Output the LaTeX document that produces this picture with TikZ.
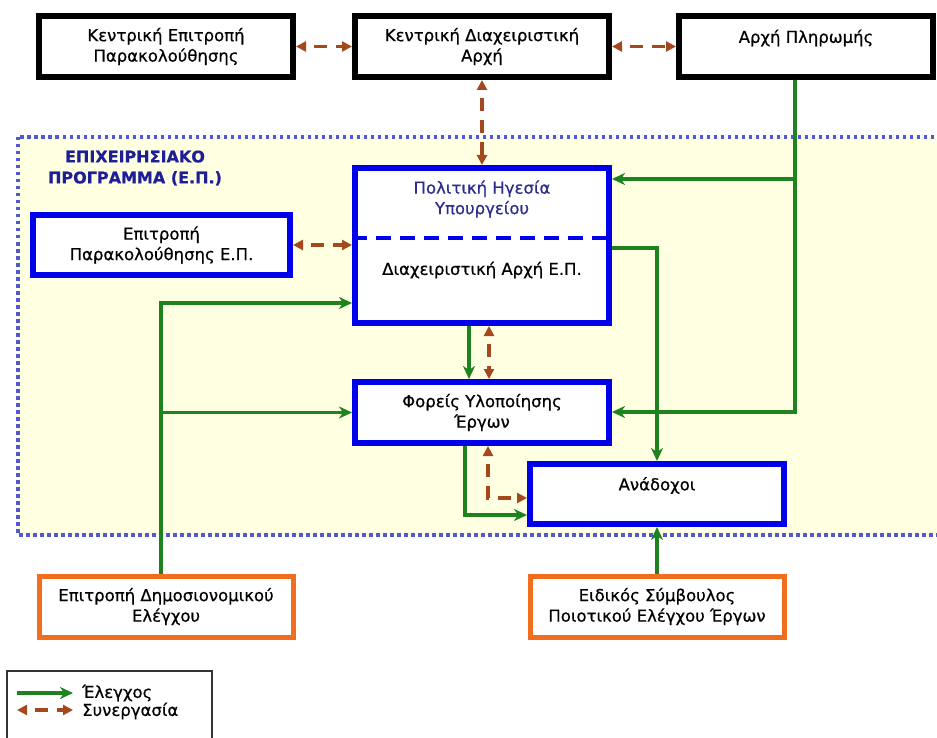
\documentclass[tikz,border=0pt]{standalone}
\usepackage{fontspec}
\setmainfont[FakeBold=0.6]{DejaVu Sans}
\usetikzlibrary{positioning, arrows.meta}
\definecolor{epblue}{RGB}{0,0,235}
\definecolor{extorange}{RGB}{240,110,30}
\definecolor{ctrlgreen}{RGB}{30,130,30}
\definecolor{coopbrown}{RGB}{165,72,30}
\definecolor{progfill}{RGB}{255,255,226}
\definecolor{progdots}{RGB}{80,90,205}
\definecolor{titleblue}{RGB}{30,30,150}
\definecolor{leadblue}{RGB}{45,45,140}
\tikzset {
    x=1pt, y=-1pt,
    every node/.style={font=\fontsize{16.5}{20.5}\selectfont},
    box/.style={draw, line width=6pt, fill=white, align=center,
        minimum width=254pt, minimum height=61pt},
    topbox/.style={box, draw=black},
    epbox/.style={box, draw=epblue},
    extbox/.style={box, draw=extorange, line width=5pt},
    ctrl/.style={draw=ctrlgreen, line width=3.2pt,
        -{Stealth[length=13pt, width=12pt, inset=4pt]}},
    coop/.style={draw=coopbrown, line width=3.2pt,
        dash pattern=on 13pt off 9pt, dash phase=13pt,
        {Triangle[length=10pt, width=10pt]}-{Triangle[length=10pt, width=10pt]}},
    progframe/.style={draw=progdots, fill=progfill, line width=3.2pt,
        dash pattern=on 3.5pt off 3.5pt}
}

\begin{document}
\begin{tikzpicture}
    \useasboundingbox (0,0) rectangle (937,738);
    \clip (0,0) rectangle (937,738);

    % operational programme area
    \draw[progframe] (18,137) rectangle (960,535);
    \node[text=titleblue, align=center, font=\fontsize{16}{21}\selectfont\bfseries]
        (eptitle) at (135,168) {ΕΠΙΧΕΙΡΗΣΙΑΚΟ\\ΠΡΟΓΡΑΜΜΑ (Ε.Π.)};

    % central level
    \node[topbox] (kep) at (166,46.5) {Κεντρική Επιτροπή\\Παρακολούθησης};
    \node[topbox, right=56pt of kep] (kda) {Κεντρική Διαχειριστική\\Αρχή};
    \node[topbox, right=64pt of kda] (ap) {Αρχή Πληρωμής\\~};

    % programme level
    \node[epbox, minimum width=257pt, minimum height=60pt] (epp) at (161.5,245)
        {Επιτροπή\\Παρακολούθησης Ε.Π.};
    \node[epbox, minimum height=155pt] (mgmt) at (482,245.5) {};
    \node[text=leadblue, align=center] (lead) at (482,199) {Πολιτική Ηγεσία\\Υπουργείου};
    \node (mgmttext) at (482,270) {Διαχειριστική Αρχή Ε.Π.};
    \draw[epblue, line width=4pt, dash pattern=on 15pt off 9pt]
        (mgmt.west |- 0,238) -- (mgmt.east |- 0,238);
    \node[epbox] (foreis) at (482,412.5) {Φορείς Υλοποίησης\\Έργων};
    \node[epbox, minimum height=60pt] (anadoxoi) at (657,494) {Ανάδοχοι\\~};

    % external control
    \node[extbox] (edel) at (166,606.5) {Επιτροπή Δημοσιονομικού\\Ελέγχου};
    \node[extbox] (eidikos) at (657,606.5) {Ειδικός Σύμβουλος\\Ποιοτικού Ελέγχου Έργων};

    % cooperation
    \draw[coop] (kep.east) -- (kda.west);
    \draw[coop] (kda.east) -- (ap.west);
    \draw[coop] (kda.south) -- (kda.south |- mgmt.north);
    \draw[coop] (epp.east) -- (epp.east -| mgmt.west);
    \draw[coop] ([xshift=7pt]mgmt.south) -- ([xshift=7pt]foreis.north);
    \draw[coop] ([xshift=6pt]foreis.south) |- ([yshift=-4pt]anadoxoi.west);

    % control
    \coordinate (paybus) at (795,412);
    \coordinate (leadjoin) at (795,179);
    \draw[ctrl] (ap.south -| paybus) -- (paybus) -- (paybus -| foreis.east);
    \draw[ctrl] (leadjoin) -- (leadjoin -| mgmt.east);
    \coordinate (anabend) at (657,248);
    \draw[ctrl] (mgmt.east |- anabend) -- (anabend) -- (anadoxoi.north);
    \draw[ctrl] ([xshift=-13pt]mgmt.south) -- ([xshift=-13pt]foreis.north);
    \draw[ctrl] ([xshift=-17pt]foreis.south) |- ([yshift=-21pt]anadoxoi.west);
    \coordinate (auditbend) at (161,303);
    \draw[ctrl] (edel.north -| auditbend) -- (auditbend) -- (auditbend -| mgmt.west);
    \draw[ctrl] (auditbend |- foreis.west) -- (foreis.west);
    \draw[ctrl] (eidikos.north) -- (anadoxoi.south);

    % legend
    \draw[black!80, line width=1.5pt] (7,671) rectangle (212,760);
    \coordinate (lgctrlA) at (17,693);
    \coordinate (lgctrlB) at (73,693);
    \coordinate (lgcoopA) at (17,710);
    \coordinate (lgcoopB) at (73,710);
    \draw[ctrl] (lgctrlA) -- (lgctrlB);
    \draw[coop] (lgcoopA) -- (lgcoopB);
    \node[right, inner sep=0pt] (lgctrl) at (82,693) {Έλεγχος};
    \node[right, inner sep=0pt] (lgcoop) at (82,711) {Συνεργασία};
\end{tikzpicture}
\end{document}
